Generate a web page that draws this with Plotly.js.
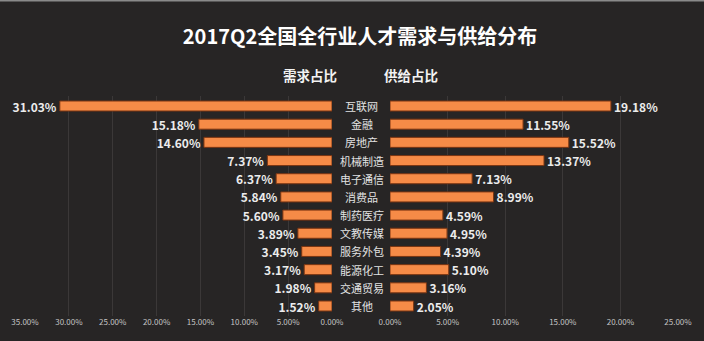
<!DOCTYPE html>
<html>
<head>
<meta charset="utf-8">
<script src="https://cdn.plot.ly/plotly-3.0.1.min.js"></script>
<style>html,body{margin:0;padding:0;background:#272525;}#chart{width:704px;height:341px;}</style>
</head>
<body>
<div id="chart"></div>
<script>
const categories = ["互联网","金融","房地产","机械制造","电子通信","消费品","制药医疗","文教传媒","服务外包","能源化工","交通贸易","其他"];
const demandShare = [31.03, 15.18, 14.60, 7.37, 6.37, 5.84, 5.60, 3.89, 3.45, 3.17, 1.98, 1.52];
const supplyShare = [19.18, 11.55, 15.52, 13.37, 7.13, 8.99, 4.59, 4.95, 4.39, 5.10, 3.16, 2.05];
const titleText = "2017Q2全国全行业人才需求与供给分布";
const demandHeader = "需求占比";
const supplyHeader = "供给占比";

const FONT = '"Noto Sans CJK SC", "Noto Sans", sans-serif';
const barColor = '#F68B47';
const barLine = '#7a3512';
const fmt = v => v.toFixed(2) + '%';

const traces = [
  {
    type: 'bar', orientation: 'h', x: demandShare, y: categories,
    xaxis: 'x', yaxis: 'y',
    marker: {color: barColor, line: {color: barLine, width: 1}},
    text: demandShare.map(fmt), textposition: 'outside', cliponaxis: false,
    constraintext: 'none',
    textfont: {family: FONT, size: 12, color: '#ececec', weight: 'bold'},
    hoverinfo: 'none'
  },
  {
    type: 'bar', orientation: 'h', x: supplyShare, y: categories,
    xaxis: 'x2', yaxis: 'y',
    marker: {color: barColor, line: {color: barLine, width: 1}},
    text: supplyShare.map(fmt), textposition: 'outside', cliponaxis: false,
    constraintext: 'none',
    textfont: {family: FONT, size: 12, color: '#ececec', weight: 'bold'},
    hoverinfo: 'none'
  }
];

const axisCommon = {
  showgrid: true, gridcolor: '#3b3838', gridwidth: 1, zeroline: false,
  showline: false, ticks: '', dtick: 5, tick0: 0,
  tickformat: '.2f', ticksuffix: '%',
  tickfont: {family: FONT, size: 8, color: '#c4c4c4'},
  fixedrange: true
};

const annotations = categories.map(c => ({
  x: 0.514, xref: 'paper', y: c, yref: 'y', text: c, showarrow: false,
  xanchor: 'center', yanchor: 'middle',
  font: {family: FONT, size: 11, color: '#e2e2e2'}
}));
annotations.push(
  {x: 310/704, xref: 'paper', y: 1 - 75/341, yref: 'paper', text: demandHeader, showarrow: false,
   xanchor: 'center', yanchor: 'middle', font: {family: FONT, size: 13.5, color: '#f2f2f2', weight: 'bold'}},
  {x: 411/704, xref: 'paper', y: 1 - 75/341, yref: 'paper', text: supplyHeader, showarrow: false,
   xanchor: 'center', yanchor: 'middle', font: {family: FONT, size: 13.5, color: '#f2f2f2', weight: 'bold'}}
);

const layout = {
  width: 704, height: 341,
  margin: {l: 0, r: 0, t: 0, b: 0},
  paper_bgcolor: '#272525', plot_bgcolor: 'rgba(0,0,0,0)',
  showlegend: false,
  bargap: 0.45,
  title: {text: titleText, x: 360/704, xanchor: 'center', y: 1 - 37/341, yanchor: 'middle',
          font: {family: FONT, size: 20, color: '#ffffff', weight: 'bold'}},
  xaxis: Object.assign({}, axisCommon, {domain: [25/704, 332/704], range: [35, 0], anchor: 'y'}),
  xaxis2: Object.assign({}, axisCommon, {domain: [390/704, 678/704], range: [0, 25], anchor: 'y'}),
  yaxis: {domain: [(341-316)/341, (341-96)/341], type: 'category', categoryarray: categories,
          autorange: 'reversed', showticklabels: false, showgrid: false, zeroline: false,
          ticks: '', fixedrange: true},
  annotations: annotations,
  shapes: [{type: 'line', xref: 'paper', yref: 'paper', x0: 0, x1: 1, y0: 0.998, y1: 0.998,
            line: {color: '#8a8a8a', width: 1.5}}]
};

Plotly.newPlot('chart', traces, layout, {displayModeBar: false, staticPlot: true});
</script>
</body>
</html>
